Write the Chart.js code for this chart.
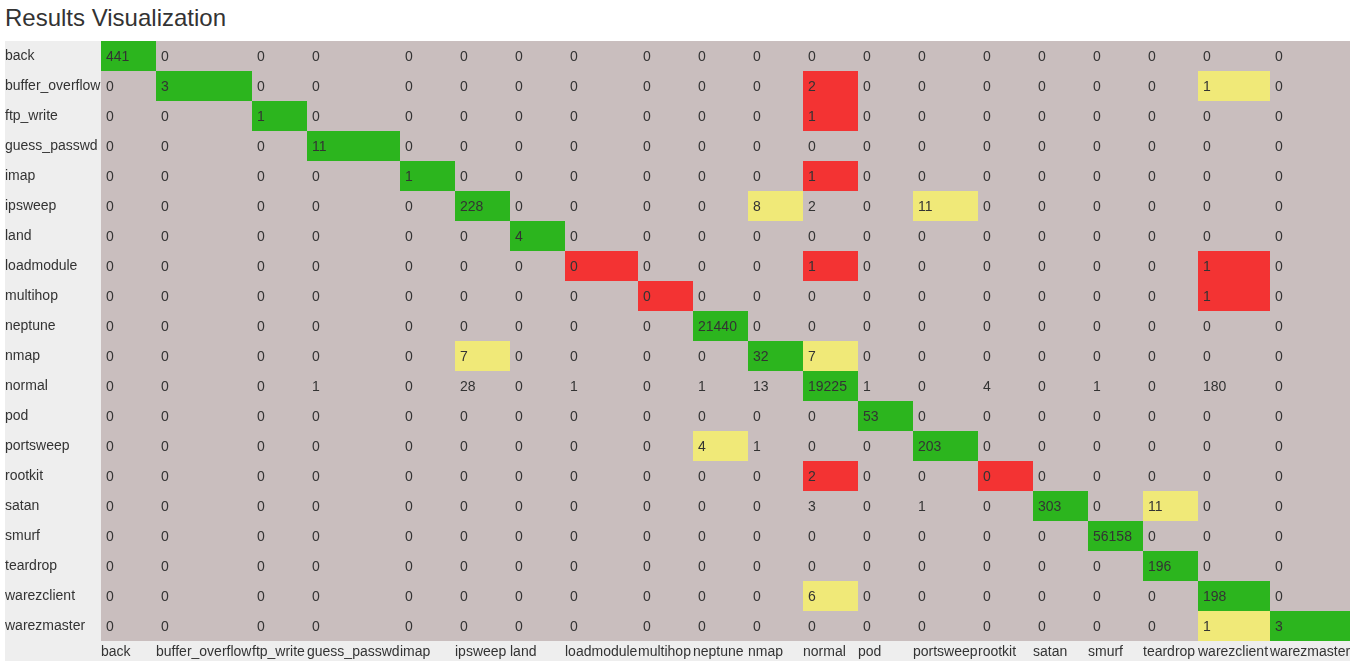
<!DOCTYPE html>
<html>
<head>
<meta charset="utf-8">
<title>Results Visualization</title>
<script src="https://cdn.jsdelivr.net/npm/chart.js@4.4.1/dist/chart.umd.min.js"></script>
<style>
  html, body { margin: 0; padding: 0; background: #fff; }
  body { width: 1362px; height: 668px; position: relative; overflow: hidden; }
  .title {
    position: absolute; left: 5px; top: 4px;
    font: 24px "Liberation Sans", Arial, sans-serif; color: #333;
  }
  .wrap { position: absolute; left: 5px; top: 41px; width: 1345px; height: 620px; }
</style>
</head>
<body>
<div class="title">Results Visualization</div>
<div class="wrap"><canvas id="chart"></canvas></div>
<script>
// Class names (rows = actual, columns = predicted)
const ROW_LABELS = [
  "back", "buffer_overflow", "ftp_write", "guess_passwd", "imap", "ipsweep", "land",
  "loadmodule", "multihop", "neptune", "nmap", "normal", "pod", "portsweep", "rootkit",
  "satan", "smurf", "teardrop", "warezclient", "warezmaster",
];
const COL_LABELS = ROW_LABELS.slice();

// Confusion matrix counts, one array per actual class
const back = [441, 0, 0, 0, 0, 0, 0, 0, 0, 0, 0, 0, 0, 0, 0, 0, 0, 0, 0, 0];
const bufferOverflow = [0, 3, 0, 0, 0, 0, 0, 0, 0, 0, 0, 2, 0, 0, 0, 0, 0, 0, 1, 0];
const ftpWrite = [0, 0, 1, 0, 0, 0, 0, 0, 0, 0, 0, 1, 0, 0, 0, 0, 0, 0, 0, 0];
const guessPasswd = [0, 0, 0, 11, 0, 0, 0, 0, 0, 0, 0, 0, 0, 0, 0, 0, 0, 0, 0, 0];
const imap = [0, 0, 0, 0, 1, 0, 0, 0, 0, 0, 0, 1, 0, 0, 0, 0, 0, 0, 0, 0];
const ipsweep = [0, 0, 0, 0, 0, 228, 0, 0, 0, 0, 8, 2, 0, 11, 0, 0, 0, 0, 0, 0];
const land = [0, 0, 0, 0, 0, 0, 4, 0, 0, 0, 0, 0, 0, 0, 0, 0, 0, 0, 0, 0];
const loadmodule = [0, 0, 0, 0, 0, 0, 0, 0, 0, 0, 0, 1, 0, 0, 0, 0, 0, 0, 1, 0];
const multihop = [0, 0, 0, 0, 0, 0, 0, 0, 0, 0, 0, 0, 0, 0, 0, 0, 0, 0, 1, 0];
const neptune = [0, 0, 0, 0, 0, 0, 0, 0, 0, 21440, 0, 0, 0, 0, 0, 0, 0, 0, 0, 0];
const nmap = [0, 0, 0, 0, 0, 7, 0, 0, 0, 0, 32, 7, 0, 0, 0, 0, 0, 0, 0, 0];
const normal = [0, 0, 0, 1, 0, 28, 0, 1, 0, 1, 13, 19225, 1, 0, 4, 0, 1, 0, 180, 0];
const pod = [0, 0, 0, 0, 0, 0, 0, 0, 0, 0, 0, 0, 53, 0, 0, 0, 0, 0, 0, 0];
const portsweep = [0, 0, 0, 0, 0, 0, 0, 0, 0, 4, 1, 0, 0, 203, 0, 0, 0, 0, 0, 0];
const rootkit = [0, 0, 0, 0, 0, 0, 0, 0, 0, 0, 0, 2, 0, 0, 0, 0, 0, 0, 0, 0];
const satan = [0, 0, 0, 0, 0, 0, 0, 0, 0, 0, 0, 3, 0, 1, 0, 303, 0, 11, 0, 0];
const smurf = [0, 0, 0, 0, 0, 0, 0, 0, 0, 0, 0, 0, 0, 0, 0, 0, 56158, 0, 0, 0];
const teardrop = [0, 0, 0, 0, 0, 0, 0, 0, 0, 0, 0, 0, 0, 0, 0, 0, 0, 196, 0, 0];
const warezclient = [0, 0, 0, 0, 0, 0, 0, 0, 0, 0, 0, 6, 0, 0, 0, 0, 0, 0, 198, 0];
const warezmaster = [0, 0, 0, 0, 0, 0, 0, 0, 0, 0, 0, 0, 0, 0, 0, 0, 0, 0, 1, 3];

const MATRIX = [
  back, bufferOverflow, ftpWrite, guessPasswd, imap, ipsweep, land, loadmodule, multihop,
  neptune, nmap, normal, pod, portsweep, rootkit, satan, smurf, teardrop, warezclient, warezmaster,
];

// Layout: column widths (px) like the auto-sized html table columns
const COL_WIDTHS = [55, 96, 55, 93, 55, 55, 55, 73, 55, 55, 55, 55, 55, 65, 55, 55, 55, 55, 72, 80];
const COL_STARTS = [];
COL_WIDTHS.reduce((acc, w) => { COL_STARTS.push(acc); return acc + w; }, 0);
const TOTAL_WIDTH = COL_WIDTHS.reduce((a, b) => a + b, 0);

const FONT_FAMILY = '"Liberation Sans", Arial, sans-serif';
const TEXT_COLOR = "#333333";
const HEADER_BG = "#eeeeee";
const CELL_BG = "#c9bebe";
const GREEN = "#2cb51e";
const RED = "#f33333";
const YELLOW = "#f0e978";

// Colour of a cell from its share of the row total
function cellColor(i, j) {
  const row = MATRIX[i];
  const v = row[j];
  if (i === j) {
    return v > 0 ? GREEN : RED;
  }
  const total = row.reduce((a, b) => a + b, 0);
  const ratio = total ? v / total : 0;
  if (ratio > 0.3) return RED;
  if (ratio > 0.01) return YELLOW;
  return null;
}

const points = [];
MATRIX.forEach((row, i) => {
  row.forEach((v, j) => {
    points.push({ x: COL_STARTS[j], y: ROW_LABELS[i], v, i, j });
  });
});

// no auto padding: the grid has to sit flush like the html table
function noPadding(scale) {
  scale.paddingLeft = 0;
  scale.paddingRight = 0;
  scale.paddingTop = 0;
  scale.paddingBottom = 0;
}

const cellPlugin = {
  id: "confusionCells",
  beforeDraw(chart) {
    const { ctx, chartArea, scales } = chart;
    ctx.save();
    ctx.fillStyle = HEADER_BG;
    ctx.fillRect(0, 0, chartArea.right, scales.x.bottom);
    ctx.fillStyle = CELL_BG;
    ctx.fillRect(chartArea.left, chartArea.top, chartArea.right - chartArea.left, chartArea.bottom - chartArea.top);
    ctx.restore();
  },
  afterDatasetsDraw(chart) {
    const { ctx, scales } = chart;
    const meta = chart.getDatasetMeta(0);
    const bandH = scales.y.height / ROW_LABELS.length;
    ctx.save();
    meta.data.forEach((el, k) => {
      const pt = points[k];
      const left = el.x;
      const right = scales.x.getPixelForValue(COL_STARTS[pt.j] + COL_WIDTHS[pt.j]);
      const top = el.y - bandH / 2;
      const color = cellColor(pt.i, pt.j);
      if (color) {
        ctx.fillStyle = color;
        ctx.fillRect(left, top, right - left, bandH);
      }
    });
    ctx.font = "14px " + FONT_FAMILY;
    ctx.fillStyle = TEXT_COLOR;
    ctx.textAlign = "left";
    ctx.textBaseline = "middle";
    meta.data.forEach((el, k) => {
      ctx.fillText(String(points[k].v), el.x + 5, el.y + 1);
    });
    ctx.restore();
  },
};

new Chart(document.getElementById("chart"), {
  type: "scatter",
  data: {
    datasets: [{ data: points, pointRadius: 0, pointHoverRadius: 0 }],
  },
  options: {
    responsive: true,
    maintainAspectRatio: false,
    animation: false,
    events: [],
    layout: { padding: 0 },
    plugins: { legend: { display: false }, tooltip: { enabled: false } },
    scales: {
      x: {
        type: "linear",
        position: "bottom",
        min: 0,
        max: TOTAL_WIDTH,
        grid: { display: false, drawTicks: false },
        border: { display: false },
        afterBuildTicks: (scale) => {
          scale.ticks = COL_STARTS.map((v) => ({ value: v }));
        },
        afterFit: (scale) => {
          scale.height = 20;
          noPadding(scale);
        },
        ticks: {
          autoSkip: false,
          maxRotation: 0,
          minRotation: 0,
          align: "start",
          padding: 3,
          color: TEXT_COLOR,
          font: { size: 14, family: FONT_FAMILY },
          callback: (value, index) => COL_LABELS[index],
        },
      },
      y: {
        type: "category",
        labels: ROW_LABELS,
        offset: true,
        position: "left",
        grid: { display: false, drawTicks: false },
        border: { display: false },
        afterFit: (scale) => {
          scale.width = 96;
          noPadding(scale);
        },
        ticks: {
          crossAlign: "far",
          padding: 0,
          autoSkip: false,
          color: TEXT_COLOR,
          font: { size: 14, family: FONT_FAMILY },
        },
      },
    },
  },
  plugins: [cellPlugin],
});
</script>
</body>
</html>
